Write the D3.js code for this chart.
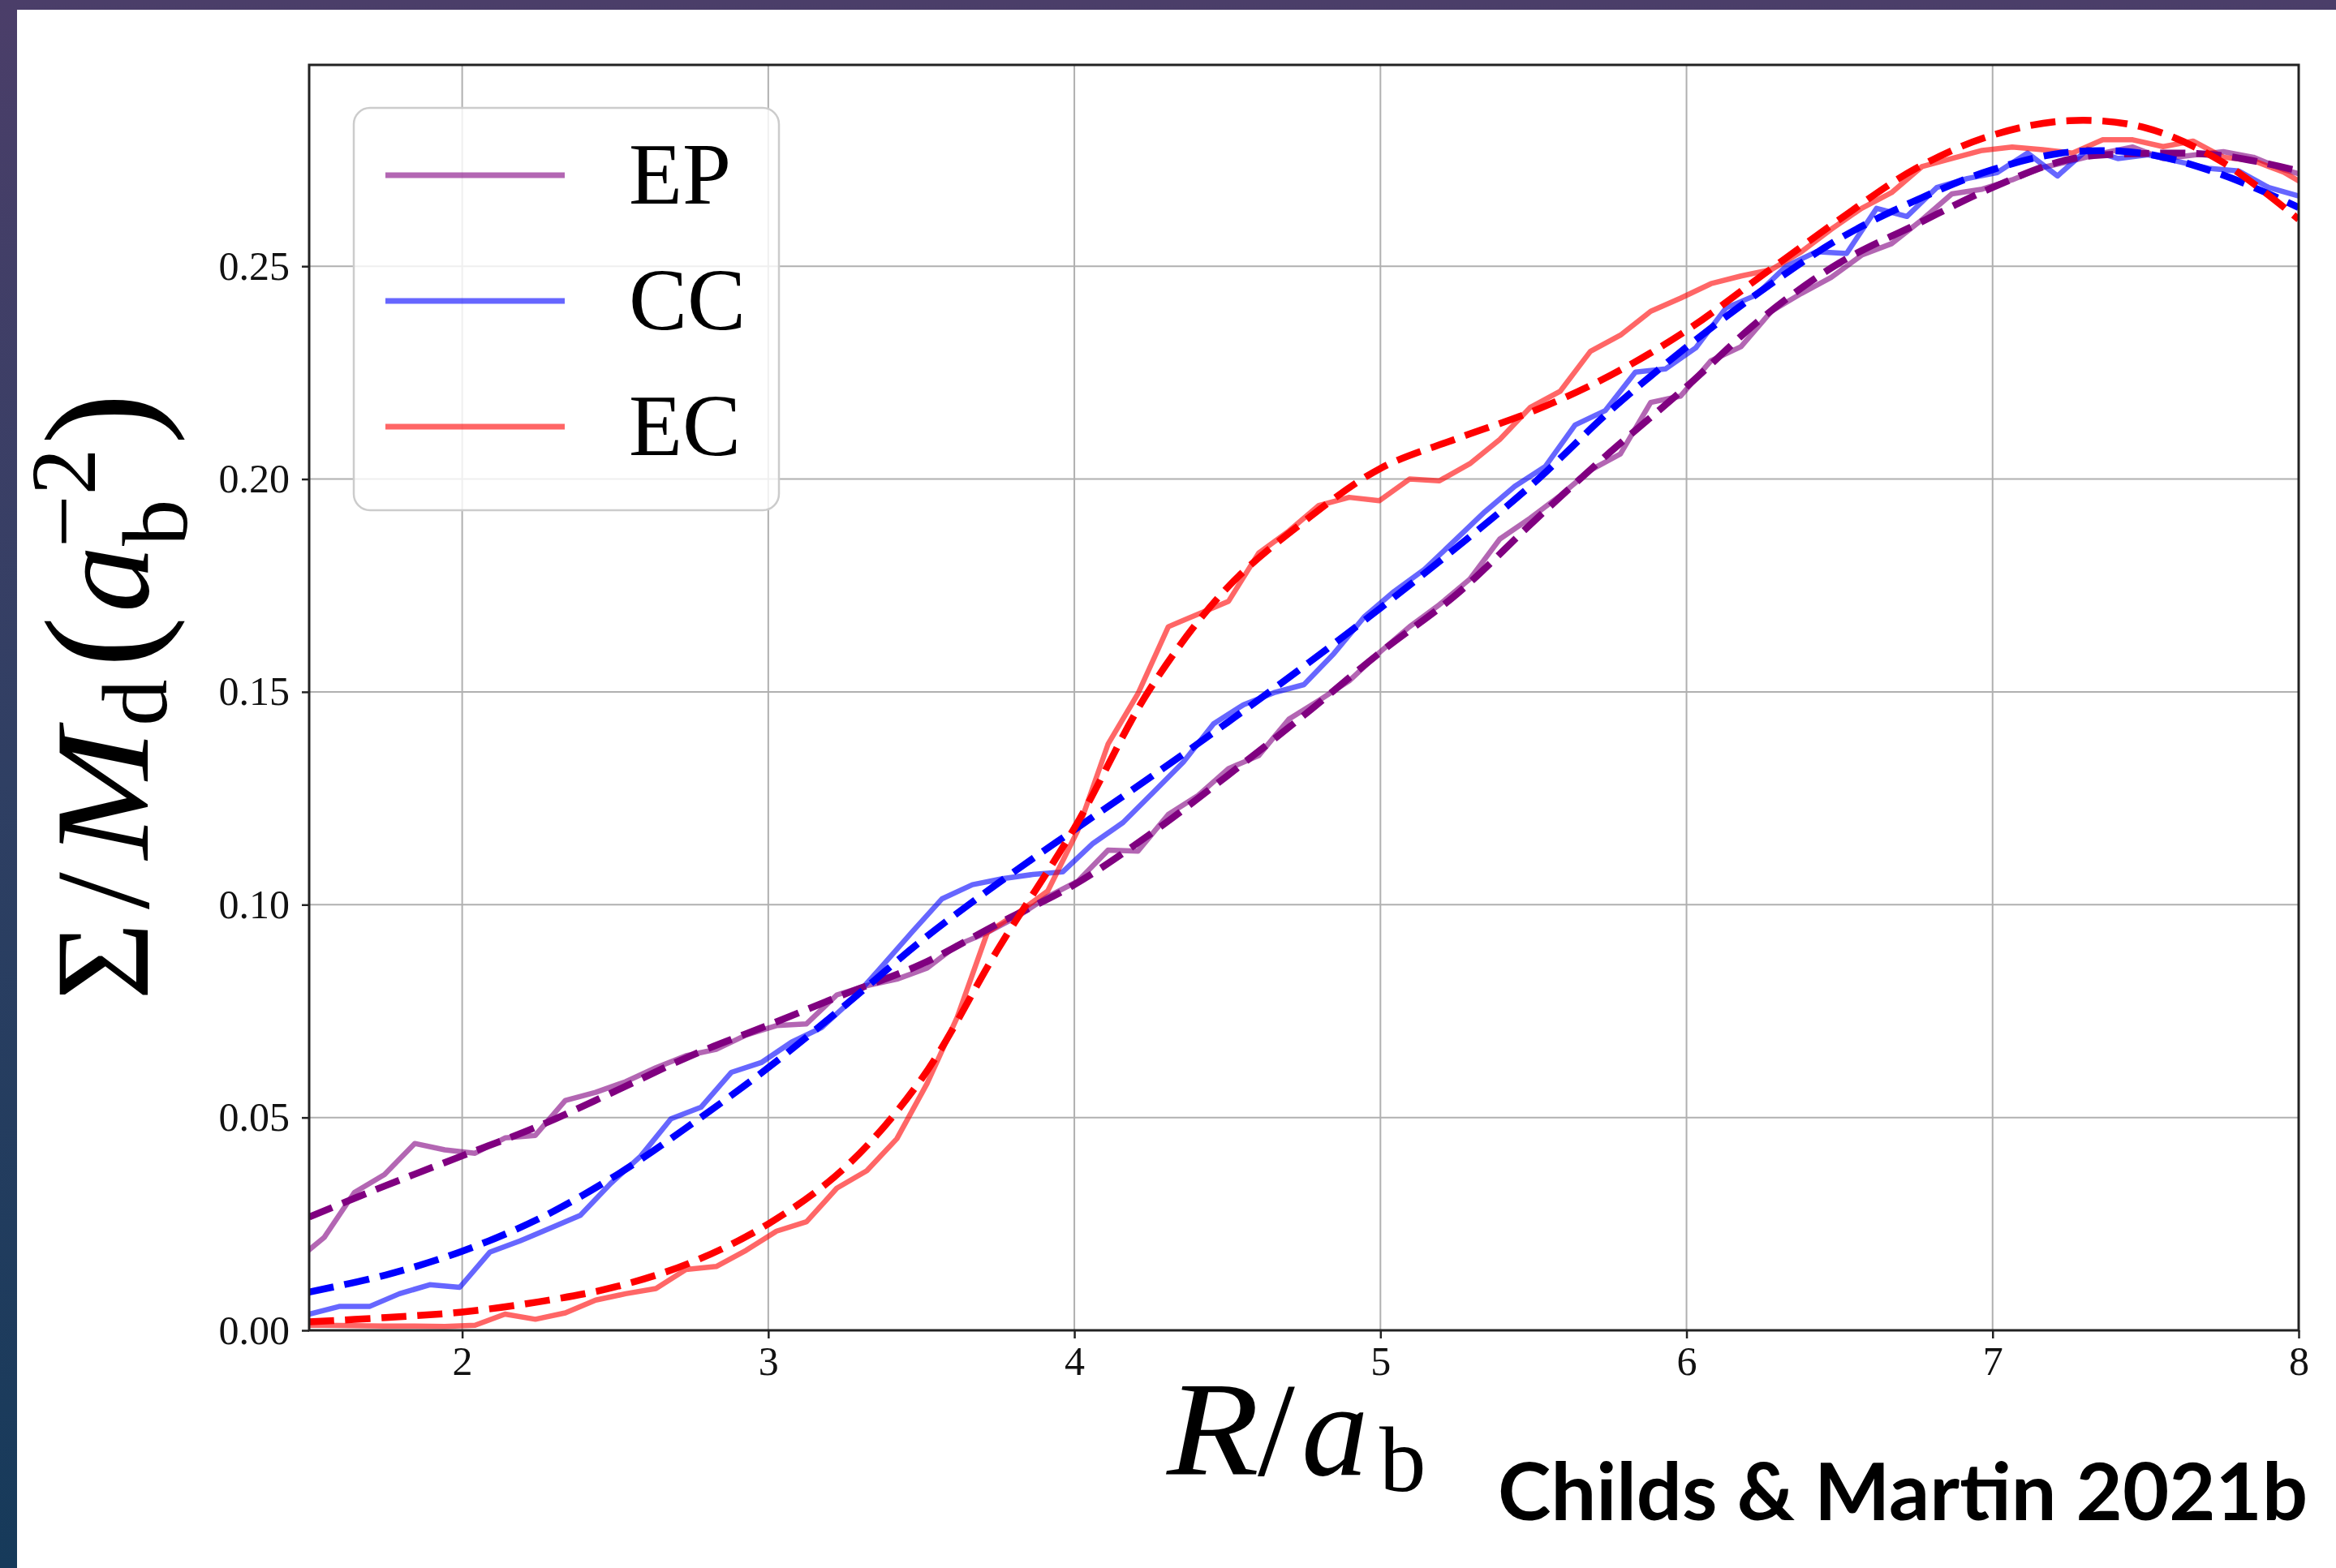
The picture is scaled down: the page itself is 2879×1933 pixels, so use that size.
<!DOCTYPE html>
<html><head><meta charset="utf-8">
<script src="https://cdn.jsdelivr.net/npm/d3@7"></script>
<style>
html,body{margin:0;padding:0;background:#fff;}
body{width:2879px;height:1933px;overflow:hidden;}
text{font-family:"Liberation Serif","DejaVu Serif",serif;}
</style></head>
<body>
<svg id="chart" width="2879" height="1933"></svg>
<script>
// ---------------- data ----------------
const rBin = [1.451,1.549,1.648,1.746,1.845,1.943,2.042,2.140,2.239,2.337,2.436,2.534,2.633,2.731,2.830,2.928,3.027,3.125,3.224,3.322,3.420,3.519,3.617,3.716,3.814,3.913,4.011,4.110,4.208,4.307,4.405,4.504,4.602,4.701,4.799,4.898,4.996,5.095,5.193,5.292,5.390,5.489,5.587,5.686,5.784,5.883,5.981,6.080,6.178,6.277,6.375,6.473,6.572,6.670,6.769,6.867,6.966,7.064,7.163,7.261,7.360,7.458,7.557,7.655,7.754,7.852,7.951,8.049];
const rEdge = [1.500,1.598,1.697,1.795,1.894,1.992,2.091,2.189,2.288,2.386,2.485,2.583,2.682,2.780,2.879,2.977,3.076,3.174,3.273,3.371,3.470,3.568,3.667,3.765,3.864,3.962,4.061,4.159,4.258,4.356,4.455,4.553,4.652,4.750,4.848,4.947,5.045,5.144,5.242,5.341,5.439,5.538,5.636,5.735,5.833,5.932,6.030,6.129,6.227,6.326,6.424,6.523,6.621,6.720,6.818,6.917,7.015,7.114,7.212,7.311,7.409,7.508,7.606,7.705,7.803,7.902,8.000];

const epData = [0.0160,0.0218,0.0324,0.0366,0.0439,0.0424,0.0416,0.0452,0.0458,0.0540,
 0.0559,0.0584,0.0617,0.0645,0.0660,0.0694,0.0716,0.0720,0.0788,0.0810,
 0.0825,0.0851,0.0905,0.0935,0.0972,0.1019,0.1055,0.1128,0.1126,0.1212,
 0.1257,0.1320,0.1350,0.1436,0.1480,0.1526,0.1592,0.1653,0.1705,0.1765,
 0.1859,0.1908,0.1961,0.2021,0.2059,0.2180,0.2195,0.2278,0.2311,0.2394,
 0.2436,0.2474,0.2526,0.2553,0.2609,0.2670,0.2681,0.2703,0.2732,0.2748,
 0.2766,0.2780,0.2753,0.2761,0.2769,0.2756,0.2727,0.2708];

const ccData = [0.0038,0.0056,0.0056,0.0086,0.0107,0.0101,0.0184,0.0210,0.0240,0.0270,
 0.0345,0.0409,0.0497,0.0524,0.0606,0.0629,0.0677,0.0711,0.0776,0.0855,
 0.0936,0.1014,0.1047,0.1061,0.1071,0.1077,0.1144,0.1193,0.1264,0.1335,
 0.1425,0.1470,0.1498,0.1517,0.1590,0.1676,0.1736,0.1788,0.1855,0.1923,
 0.1983,0.2029,0.2127,0.2161,0.2251,0.2259,0.2308,0.2402,0.2432,0.2500,
 0.2534,0.2530,0.2636,0.2617,0.2685,0.2706,0.2720,0.2766,0.2712,0.2775,
 0.2753,0.2762,0.2746,0.2730,0.2724,0.2685,0.2665];

const ecData = [0.0012,0.0012,0.0011,0.0010,0.0010,0.0009,0.0012,0.0038,0.0026,0.0041,
 0.0071,0.0086,0.0098,0.0143,0.0150,0.0188,0.0233,0.0255,0.0334,0.0375,
 0.0450,0.0580,0.0735,0.0935,0.0980,0.1032,0.1174,0.1377,0.1496,0.1653,
 0.1683,0.1713,0.1826,0.1878,0.1938,0.1957,0.1949,0.2000,0.1996,0.2036,
 0.2093,0.2168,0.2206,0.2300,0.2338,0.2394,0.2425,0.2459,0.2477,0.2492,
 0.2534,0.2587,0.2636,0.2673,0.2734,0.2753,0.2772,0.2780,0.2774,0.2766,
 0.2797,0.2797,0.2781,0.2794,0.2756,0.2748,0.2721,0.2680];

const fitR = [1.50,1.75,2.00,2.25,2.50,2.75,3.00,3.25,3.50,3.75,4.00,4.25,4.50,4.75,5.00,5.25,5.50,5.75,6.00,6.25,6.50,6.75,7.00,7.25,7.50,7.75,8.00];
const epFit = [0.0266,0.0340,0.0410,0.0480,0.0562,0.0646,0.0717,0.0790,0.0860,0.0955,0.1047,0.1167,0.1303,0.1445,0.1593,0.1730,0.1900,0.2063,0.2217,0.2380,0.2508,0.2598,0.2685,0.2751,0.2765,0.2760,0.2724];
const ccFit = [0.0090,0.0130,0.0186,0.0262,0.0363,0.0485,0.0617,0.0763,0.0915,0.1050,0.1176,0.1300,0.1428,0.1560,0.1697,0.1840,0.1990,0.2160,0.2310,0.2445,0.2565,0.2655,0.2727,0.2768,0.2764,0.2715,0.2638];
const ecFit = [0.0020,0.0030,0.0043,0.0067,0.0102,0.0160,0.0250,0.0382,0.0590,0.0895,0.1180,0.1510,0.1745,0.1900,0.2025,0.2095,0.2160,0.2243,0.2349,0.2480,0.2610,0.2730,0.2808,0.2842,0.2825,0.2745,0.2610];

const xTicks = [2,3,4,5,6,7,8];
const xTickLabels = ["2","3","4","5","6","7","8"];
const yTicks = [0,0.05,0.10,0.15,0.20,0.25];
const yTickLabels = ["0.00","0.05","0.10","0.15","0.20","0.25"];
const seriesNames = ["EP","CC","EC"];
const seriesColors = ["#800080","#0000ff","#ff0000"];
const credit = "Childs & Martin 2021b";

// ---------------- layout ----------------
const W = 2879, H = 1933;
const L = 381, R = 2833, T = 80, B = 1640;
const SERIF = "'Liberation Serif', 'DejaVu Serif', serif";

const svg = d3.select("#chart");
const defs = svg.append("defs");
const grad = defs.append("linearGradient").attr("id","bg").attr("x1",0).attr("y1",0).attr("x2",0).attr("y2",1);
grad.append("stop").attr("offset","0%").attr("stop-color","#4b3e69");
grad.append("stop").attr("offset","50%").attr("stop-color","#2f3f63");
grad.append("stop").attr("offset","100%").attr("stop-color","#163a5a");
defs.append("clipPath").attr("id","plotclip").append("rect")
  .attr("x",L).attr("y",T).attr("width",R-L).attr("height",B-T);

svg.append("rect").attr("width",W).attr("height",H).attr("fill","url(#bg)");
svg.append("rect").attr("x",21).attr("y",12).attr("width",W-21).attr("height",H-12).attr("fill","#ffffff");

const x = d3.scaleLinear().domain([1.5,8]).range([L,R]);
const y = d3.scaleLinear().domain([0,0.2973]).range([B,T]);

// grid
const grid = svg.append("g");
grid.selectAll(".gx").data(xTicks).join("line")
  .attr("x1",d=>x(d)).attr("x2",d=>x(d)).attr("y1",T).attr("y2",B)
  .attr("stroke","#b0b0b0").attr("stroke-width",2);
grid.selectAll(".gy").data(yTicks).join("line")
  .attr("x1",L).attr("x2",R).attr("y1",d=>y(d)).attr("y2",d=>y(d))
  .attr("stroke","#b0b0b0").attr("stroke-width",2);

// lines
const plot = svg.append("g").attr("clip-path","url(#plotclip)");
const lineLin = d3.line().x(d=>x(d[0])).y(d=>y(d[1]));
const lineFit = d3.line().x(d=>x(d[0])).y(d=>y(d[1])).curve(d3.curveCatmullRom.alpha(0.5));

const solids = [
  {r:rBin, v:epData, c:seriesColors[0]},
  {r:rEdge, v:ccData, c:seriesColors[1]},
  {r:rBin, v:ecData, c:seriesColors[2]}
];
const fits = [
  {v:epFit, c:seriesColors[0]},
  {v:ccFit, c:seriesColors[1]},
  {v:ecFit, c:seriesColors[2]}
];
solids.forEach(s=>{
  plot.append("path").datum(s.r.map((r,i)=>[r,s.v[i]]))
    .attr("d",lineLin).attr("fill","none").attr("stroke",s.c).attr("stroke-opacity",0.6)
    .attr("stroke-width",6.5).attr("stroke-linejoin","round");
});
fits.forEach(s=>{
  plot.append("path").datum(fitR.map((r,i)=>[r,s.v[i]]))
    .attr("d",lineFit).attr("fill","none").attr("stroke",s.c)
    .attr("stroke-width",8.5).attr("stroke-dasharray","31,13.5").attr("stroke-linejoin","round");
});

// axes
const xAxis = d3.axisBottom(x).tickValues(xTicks).tickFormat((d,i)=>xTickLabels[i]).tickSize(10).tickPadding(9);
const yAxis = d3.axisLeft(y).tickValues(yTicks).tickFormat((d,i)=>yTickLabels[i]).tickSize(9).tickPadding(15);
const gx = svg.append("g").attr("transform",`translate(0,${B})`).call(xAxis);
const gy = svg.append("g").attr("transform",`translate(${L},0)`).call(yAxis);
[gx,gy].forEach(g=>{
  g.select(".domain").remove();
  g.selectAll(".tick line").attr("stroke","#222").attr("stroke-width",2.5);
  g.selectAll(".tick text").attr("fill","#111").style("font-family",SERIF).style("font-size","50px");
});

// spines
svg.append("rect").attr("x",L).attr("y",T).attr("width",R-L).attr("height",B-T)
  .attr("fill","none").attr("stroke","#222").attr("stroke-width",3);

// legend
const lg = svg.append("g");
lg.append("rect").attr("x",436).attr("y",133).attr("width",524).attr("height",496).attr("rx",20)
  .attr("fill","#ffffff").attr("fill-opacity",0.8).attr("stroke","#cccccc").attr("stroke-width",2.5);
const legY = [216,371,526];
seriesNames.forEach((n,i)=>{
  lg.append("line").attr("x1",475).attr("x2",696).attr("y1",legY[i]).attr("y2",legY[i])
    .attr("stroke",seriesColors[i]).attr("stroke-opacity",0.6).attr("stroke-width",7);
  lg.append("text").attr("x",775).attr("y",legY[i]+35).attr("font-size",108)
    .style("font-family",SERIF).attr("fill","#000").text(n);
});

// y label
const yl = svg.append("g").attr("transform","translate(182,1233) rotate(-90)");
const ylParts = [
  {t:"\u03A3", x:0, y:0, s:165, i:false},
  {t:"/", x:112, y:0, s:165, i:false},
  {t:"M", x:174, y:0, s:165, i:true, w:160},
  {t:"d", x:338, y:23, s:115, i:false},
  {t:"(", x:410, y:5, s:190, i:false},
  {t:"a", x:478, y:0, s:165, i:true},
  {t:"b", x:560, y:48, s:115, i:false},
  {t:"\u22122", x:558, y:-65, s:115, i:false},
  {t:")", x:685, y:5, s:190, i:false}
];
ylParts.forEach(p=>{
  const t = yl.append("text").attr("x",p.x).attr("y",p.y).attr("font-size",p.s)
    .style("font-family",SERIF).style("font-style",p.i?"italic":"normal").attr("fill","#000").text(p.t);
  if (p.w) t.attr("textLength",p.w).attr("lengthAdjust","spacingAndGlyphs");
});

// x label
const xlParts = [
  {t:"R", x:1438, y:1818, s:165, i:true, w:114},
  {t:"/", x:1550, y:1818, s:165, i:false},
  {t:"a", x:1604, y:1818, s:165, i:true},
  {t:"b", x:1700, y:1838, s:115, i:false}
];
xlParts.forEach(p=>{
  const t = svg.append("text").attr("x",p.x).attr("y",p.y).attr("font-size",p.s)
    .style("font-family",SERIF).style("font-style",p.i?"italic":"normal").attr("fill","#000").text(p.t);
  if (p.w) t.attr("textLength",p.w).attr("lengthAdjust","spacingAndGlyphs");
});

// credit
svg.append("text").attr("x",1846).attr("y",1874)
  .style("font-family","Lato, 'Open Sans', sans-serif").attr("font-weight",700)
  .attr("font-size",98).attr("fill","#000")
  .attr("textLength",998).attr("lengthAdjust","spacingAndGlyphs").text(credit);
</script>
</body></html>
